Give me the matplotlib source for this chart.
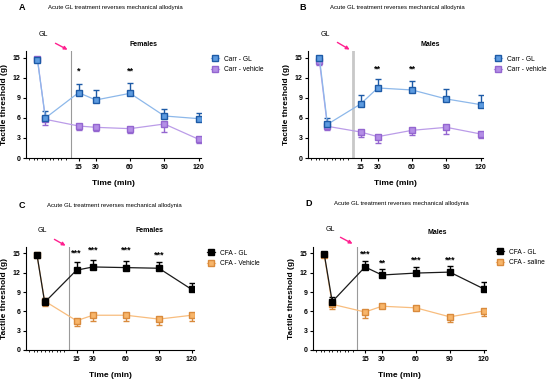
import numpy as np
import matplotlib
matplotlib.use("Agg")
import matplotlib.pyplot as plt

plt.rcParams['font.family'] = ['Liberation Sans', 'DejaVu Sans']

# x positions: baseline, post-injury, then minutes after GL
time_pos = [-21, -14, 15, 30, 60, 90, 120]
time_ticks = [15, 30, 60, 90, 120]
gl_time = 8

# A - Carr, females
a_gl = [14.7, 6.0, 9.8, 8.7, 9.7, 6.3, 5.9]
a_gl_err = [0.3, 1.0, 1.3, 1.5, 1.5, 1.0, 0.9]
a_veh = [14.9, 5.8, 4.8, 4.6, 4.4, 5.1, 2.8]
a_veh_err = [0.3, 0.9, 0.6, 0.5, 0.7, 1.2, 0.5]
a_stars = {15: ('*', 12.3), 60: ('**', 12.3)}

# B - Carr, males
b_gl = [15.0, 5.05, 8.1, 10.5, 10.2, 8.85, 8.0]
b_gl_err = [0.3, 1.0, 1.35, 1.4, 1.3, 1.55, 1.4]
b_veh = [14.5, 4.75, 3.9, 3.2, 4.15, 4.6, 3.6]
b_veh_err = [0.5, 0.6, 0.75, 0.9, 0.75, 0.95, 0.6]
b_stars = {30: ('**', 12.7), 60: ('**', 12.7)}

# C - CFA, females
c_gl = [14.8, 7.4, 12.4, 12.9, 12.8, 12.7, 9.4]
c_gl_err = [0.2, 0.7, 1.25, 1.1, 1.0, 1.0, 1.0]
c_veh = [14.7, 7.6, 4.55, 5.4, 5.4, 4.8, 5.4]
c_veh_err = [0.2, 0.7, 0.75, 0.85, 0.85, 0.9, 0.9]
c_stars = {15: ('***', 14.3), 30: ('***', 14.9), 60: ('***', 14.9), 90: ('***', 14.0)}

# D - CFA, males
d_gl = [14.85, 7.5, 12.9, 11.65, 11.95, 12.1, 9.5]
d_gl_err = [0.2, 0.7, 1.0, 0.9, 0.9, 1.0, 1.1]
d_veh = [14.7, 7.1, 5.9, 6.8, 6.55, 5.15, 6.05]
d_veh_err = [0.2, 0.7, 0.9, 0.3, 0.4, 0.8, 0.8]
d_stars = {15: ('***', 14.2), 30: ('**', 12.8), 60: ('***', 13.3), 90: ('***', 13.3)}

blue = dict(line='#8db8ea', face='#5d9be0', edge='#1d5aa6')
purple = dict(line='#bb9ce8', face='#b48ee6', edge='#9466d0')
black = dict(line='#1a1a1a', face='#000000', edge='#000000')
orange = dict(line='#f8bd7e', face='#f7b56a', edge='#d98a3c')

fig = plt.figure(figsize=(5.5, 3.82), dpi=100)


def px(x, y):
    return x / 550, 1 - y / 382


def panel(rect, letter, letter_xy, title_xy, sex, sex_xy, gl_xy, arrow,
          s1, e1, c1, n1, s2, e2, c2, n2, stars, leg_xy, vline_col, vline_w):
    ax = fig.add_axes(rect)
    ax.axvline(gl_time, 0, 1, color=vline_col, lw=vline_w, zorder=1)
    handles = {}
    for s, e, c, n, up in [(s2, e2, c2, n2, False), (s1, e1, c1, n1, True)]:
        s = np.array(s)
        e = np.array(e)
        yerr = [np.zeros_like(e), e] if up else [e, np.zeros_like(e)]
        ax.errorbar(time_pos, s, yerr=yerr, fmt='none', ecolor=c['edge'],
                    elinewidth=1.0, capsize=2, capthick=1.0, zorder=2)
        handles[n], = ax.plot(time_pos, s, '-', color=c['line'], lw=0.9,
                              zorder=2, marker='s', ms=5, mfc=c['face'],
                              mec=c['edge'], mew=1.0, label=n)
    for t, (txt, y) in stars.items():
        ax.text(t, y, txt, ha='center', va='bottom', fontsize=6.5,
                fontweight='bold')
    ax.set_xlim(-31, 122)
    ax.set_ylim(0, 16)
    ax.set_yticks([0, 3, 6, 9, 12, 15])
    ax.set_xticks(time_ticks)
    ax.set_xticks([-28, -24, -21, -17, -14, -10, -7, -3, 0, 4], minor=True)
    ax.tick_params(labelsize=5, width=0.8, length=2.5, pad=1.5)
    ax.tick_params(which='minor', width=0.6, length=1.5)
    for lab in ax.get_xticklabels() + ax.get_yticklabels():
        lab.set_fontweight('bold')
    ax.spines['top'].set_visible(False)
    ax.spines['right'].set_visible(False)
    ax.spines['left'].set_linewidth(0.8)
    ax.spines['bottom'].set_linewidth(0.8)
    ax.set_xlabel('Time (min)', fontsize=6, fontweight='bold', labelpad=7)
    ax.set_ylabel('Tactile threshold (g)', fontsize=6, fontweight='bold',
                  labelpad=3)
    fig.text(*px(*letter_xy), letter, fontsize=6.5, fontweight='bold',
             ha='center', va='center')
    fig.text(*px(*title_xy), 'Acute GL treatment reverses mechanical allodynia',
             fontsize=4.3, ha='left', va='center')
    fig.text(*px(*sex_xy), sex, fontsize=5, fontweight='bold',
             ha='center', va='center')
    fig.text(*px(*gl_xy), 'GL', fontsize=5, ha='center', va='center')
    ax.annotate('', xy=px(*arrow[1]), xytext=px(*arrow[0]),
                xycoords='figure fraction', textcoords='figure fraction',
                arrowprops=dict(arrowstyle='-|>', color='#ff1f8f', lw=1.0,
                                mutation_scale=5))
    fig.legend(handles=[handles[n1], handles[n2]],
               loc='upper left', bbox_to_anchor=px(*leg_xy), frameon=False,
               fontsize=4.8, handlelength=1.3, handletextpad=0.7,
               labelspacing=0.55, borderaxespad=0)
    return ax


panel([26 / 550, 1 - 158 / 382, 175 / 550, 106.7 / 382], 'A', (22, 8), (48, 8),
      'Females', (143, 45), (43, 35), [(53, 42), (70, 51)],
      a_gl, a_gl_err, blue, 'Carr - GL', a_veh, a_veh_err, purple, 'Carr - vehicle',
      a_stars, (208, 53), '#9a9a9a', 0.8)

panel([308 / 550, 1 - 158 / 382, 175 / 550, 106.7 / 382], 'B', (303, 8), (330, 8),
      'Males', (430, 45), (325, 34), [(335, 41), (352, 51)],
      b_gl, b_gl_err, blue, 'Carr - GL', b_veh, b_veh_err, purple, 'Carr - vehicle',
      b_stars, (491, 53), '#c8c8c8', 2.0)

panel([26 / 550, 1 - 350 / 382, 168 / 550, 103 / 382], 'C', (22, 206), (47, 206),
      'Females', (149, 230), (42, 231), [(52, 238), (68, 247)],
      c_gl, c_gl_err, black, 'CFA - GL', c_veh, c_veh_err, orange, 'CFA - Vehicle',
      c_stars, (204, 247), '#9a9a9a', 0.8)

panel([313 / 550, 1 - 350 / 382, 173 / 550, 103 / 382], 'D', (309, 204), (334, 204),
      'Males', (437, 232), (330, 229), [(338, 236), (355, 245)],
      d_gl, d_gl_err, black, 'CFA - GL', d_veh, d_veh_err, orange, 'CFA - saline',
      d_stars, (493, 246), '#9a9a9a', 0.8)

fig.savefig('out.png', dpi=100)
